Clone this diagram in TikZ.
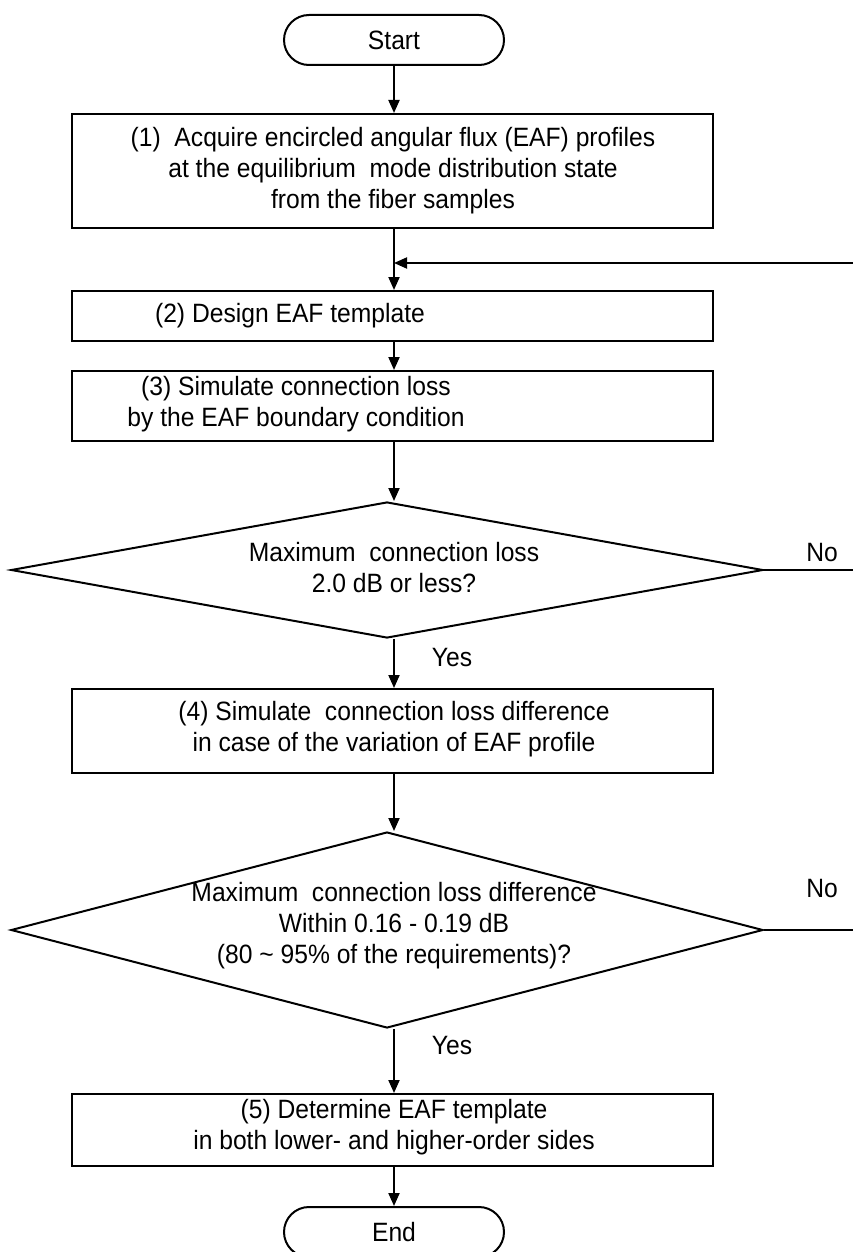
\documentclass[tikz,border=0pt]{standalone}
\usepackage{fontspec}
\setmainfont{Liberation Sans}[FakeStretch=0.93]
\usetikzlibrary{arrows.meta,shapes.geometric}
\begin{document}
\begin{tikzpicture}[x=1pt,y=-1pt,
  every node/.style={inner sep=0pt},
  txt/.style={align=center,font=\fontsize{26.5}{31}\selectfont},
  box/.style={draw,line width=2pt,minimum width=641pt},
  term/.style={draw,line width=2pt,minimum width=220pt,minimum height=50pt,rounded corners=25pt},
  dec/.style={draw,diamond,line width=2pt},
  arr/.style={line width=2pt,-{Triangle[length=13pt,width=11pt]}},
  ln/.style={line width=2pt}]
\useasboundingbox (0,0) rectangle (853,1252);
% nodes
\node[term,txt] (start) at (394,40) {Start};
\node[box,minimum height=114pt] (b1) at (392,171) {};
\node[txt] (t1) at (393,171) {(1)\ \ Acquire encircled angular flux (EAF) profiles\\at the equilibrium\ \ mode distribution state\\from the fiber samples};
\node[box,minimum height=50pt] (b2) at (392,316) {};
\node[txt] (t2) at (290,316) {(2) Design EAF template};
\node[box,minimum height=70pt] (b3) at (392,406) {};
\node[txt] (t3) at (296,404) {(3) Simulate connection loss\\by the EAF boundary condition};
\node[dec,minimum width=752pt,minimum height=136pt] (d1) at (387,570) {};
\node[txt] (td1) at (394,568) {Maximum\ \ connection loss\\2.0 dB or less?};
\node[box,minimum height=84pt] (b4) at (392,731) {};
\node[txt] (t4) at (394,729) {(4) Simulate\ \ connection loss difference\\in case of the variation of EAF profile};
\node[dec,minimum width=752pt,minimum height=196pt] (d2) at (387,930) {};
\node[txt] (td2) at (394,926) {Maximum\ \ connection loss difference\\Within 0.16 - 0.19 dB\\(80 \textasciitilde\ 95\% of the requirements)?};
\node[box,minimum height=72pt] (b5) at (392,1130) {};
\node[txt] (t5) at (394,1127) {(5) Determine EAF template\\in both lower- and higher-order sides};
\node[term,txt] (end) at (394,1232) {End};
\node[txt] (yes1) at (452,658) {Yes};
\node[txt] (yes2) at (452,1046) {Yes};
\node[txt] (no1) at (822,553) {No};
\node[txt] (no2) at (822,889) {No};
% coordinates
\coordinate (fbR) at (853,263);
\coordinate (fbJ) at (394,263);
\coordinate (no1R) at (853,570);
\coordinate (no2R) at (853,930);
% connectors
\draw[arr] (start.south -| 394,0) -- (b1.north -| 394,0);
\draw[ln] (b1.south -| 394,0) -- (fbJ);
\draw[arr] (fbJ) -- (b2.north -| 394,0);
\draw[arr] (fbR) -- (fbJ);
\draw[arr] (b2.south -| 394,0) -- (b3.north -| 394,0);
\draw[arr] (b3.south -| 394,0) -- (d1.north -| 394,0);
\draw[arr] (d1.south -| 394,0) -- (b4.north -| 394,0);
\draw[ln] (d1.east) -- (no1R);
\draw[arr] (b4.south -| 394,0) -- (d2.north -| 394,0);
\draw[ln] (d2.east) -- (no2R);
\draw[arr] (d2.south -| 394,0) -- (b5.north -| 394,0);
\draw[arr] (b5.south -| 394,0) -- (end.north -| 394,0);
\end{tikzpicture}
\end{document}
